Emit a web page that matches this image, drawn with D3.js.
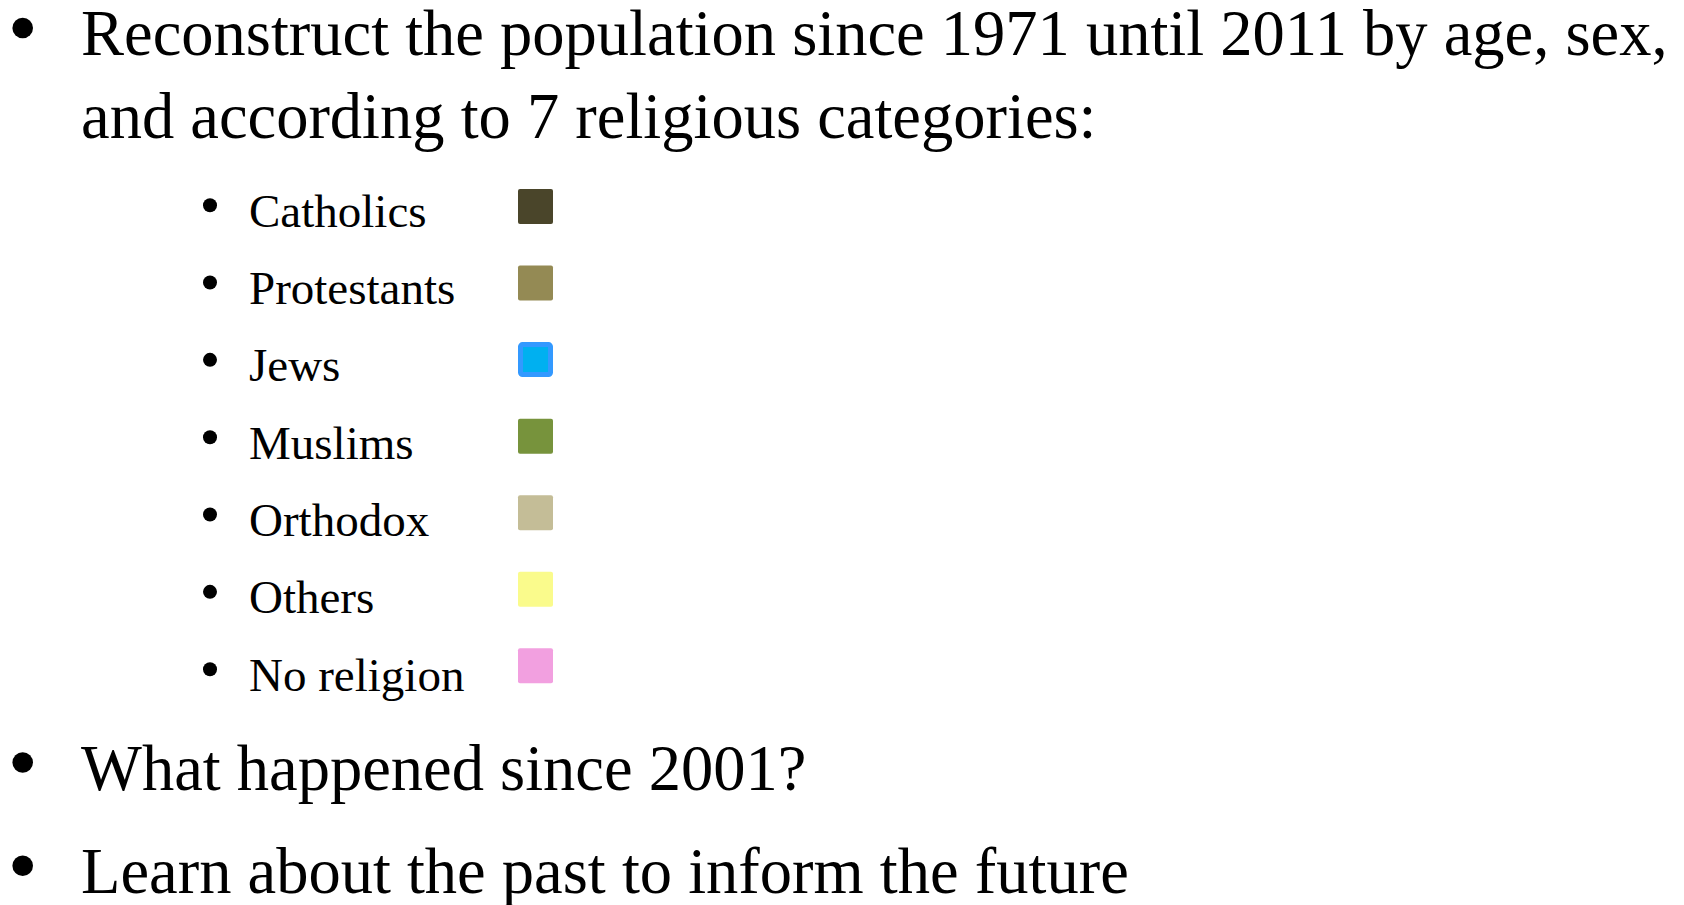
<!DOCTYPE html>
<html>
<head>
<meta charset="utf-8">
<script src="https://cdn.jsdelivr.net/npm/d3@7"></script>
<style>
  html, body { margin: 0; padding: 0; background: #ffffff; }
  svg { display: block; }
  text { font-family: "Liberation Serif", "Times New Roman", serif; fill: #000; }
</style>
</head>
<body>
<svg id="chart" width="1684" height="905"></svg>
<script>
// ---- data ----
const categories = ["Catholics", "Protestants", "Jews", "Muslims", "Orthodox", "Others", "No religion"];
const categoryFill = ["#4A452A", "#948A54", "#00B0F0", "#77933C", "#C4BD97", "#FAFB8C", "#F2A0E0"];
const categoryStroke = ["#4A452A", "#948A54", "#3399FF", "#77933C", "#C4BD97", "#FAFB8C", "#F2A0E0"];
const introLines = ["Reconstruct the population since 1971 until 2011 by age, sex,",
                    "and according to 7 religious categories:"];
const closingPoints = ["What happened since 2001?", "Learn about the past to inform the future"];

// ---- drawing ----
const svg = d3.select("#chart");
const W = 1684, H = 905;
svg.append("rect").attr("width", W).attr("height", H).attr("fill", "#fff");

const fill = d3.scaleOrdinal(categories, categoryFill);
const stroke = d3.scaleOrdinal(categories, categoryStroke);

const mainSize = 64.5;
const subSize = 47;
const mainTextX = 81;
const mainBulletX = 22.7;

// intro bullet (two lines)
const introY = d3.scalePoint().domain(d3.range(introLines.length)).range([55, 138.3]);
svg.append("circle").attr("cx", mainBulletX).attr("cy", introY(0) - 27).attr("r", 10.3).attr("fill", "#000");
svg.selectAll("text.intro").data(introLines).join("text")
  .attr("class", "intro")
  .attr("x", mainTextX)
  .attr("y", (d, i) => introY(i))
  .attr("font-size", mainSize)
  .text(d => d);

// category sub-list
const textY = d3.scalePoint().domain(categories).range([226.7, 690.7]);
const boxY = d3.scalePoint().domain(categories).range([189, 648.3]);
const boxSize = 35;
const boxX = 518;

const rows = svg.selectAll("g.cat").data(categories).join("g").attr("class", "cat");
rows.append("circle")
  .attr("cx", 210)
  .attr("cy", d => textY(d) - 21.5)
  .attr("r", 7)
  .attr("fill", "#000");
rows.append("text")
  .attr("x", 249)
  .attr("y", d => textY(d))
  .attr("font-size", subSize)
  .text(d => d);
rows.append("rect")
  .attr("x", d => stroke(d) !== fill(d) ? boxX + 2.5 : boxX)
  .attr("y", d => stroke(d) !== fill(d) ? boxY(d) + 2.5 : boxY(d))
  .attr("width", d => stroke(d) !== fill(d) ? boxSize - 5 : boxSize)
  .attr("height", d => stroke(d) !== fill(d) ? boxSize - 5 : boxSize)
  .attr("rx", 2)
  .attr("fill", d => fill(d))
  .attr("stroke", d => stroke(d) !== fill(d) ? stroke(d) : "none")
  .attr("stroke-width", 5);

// closing bullets
const closeY = d3.scalePoint().domain(closingPoints).range([790, 893.3]);
const closeRows = svg.selectAll("g.close").data(closingPoints).join("g").attr("class", "close");
closeRows.append("circle")
  .attr("cx", mainBulletX)
  .attr("cy", d => closeY(d) - 27.5)
  .attr("r", 10.3)
  .attr("fill", "#000");
closeRows.append("text")
  .attr("x", mainTextX)
  .attr("y", d => closeY(d))
  .attr("font-size", mainSize)
  .text(d => d);
</script>
</body>
</html>
